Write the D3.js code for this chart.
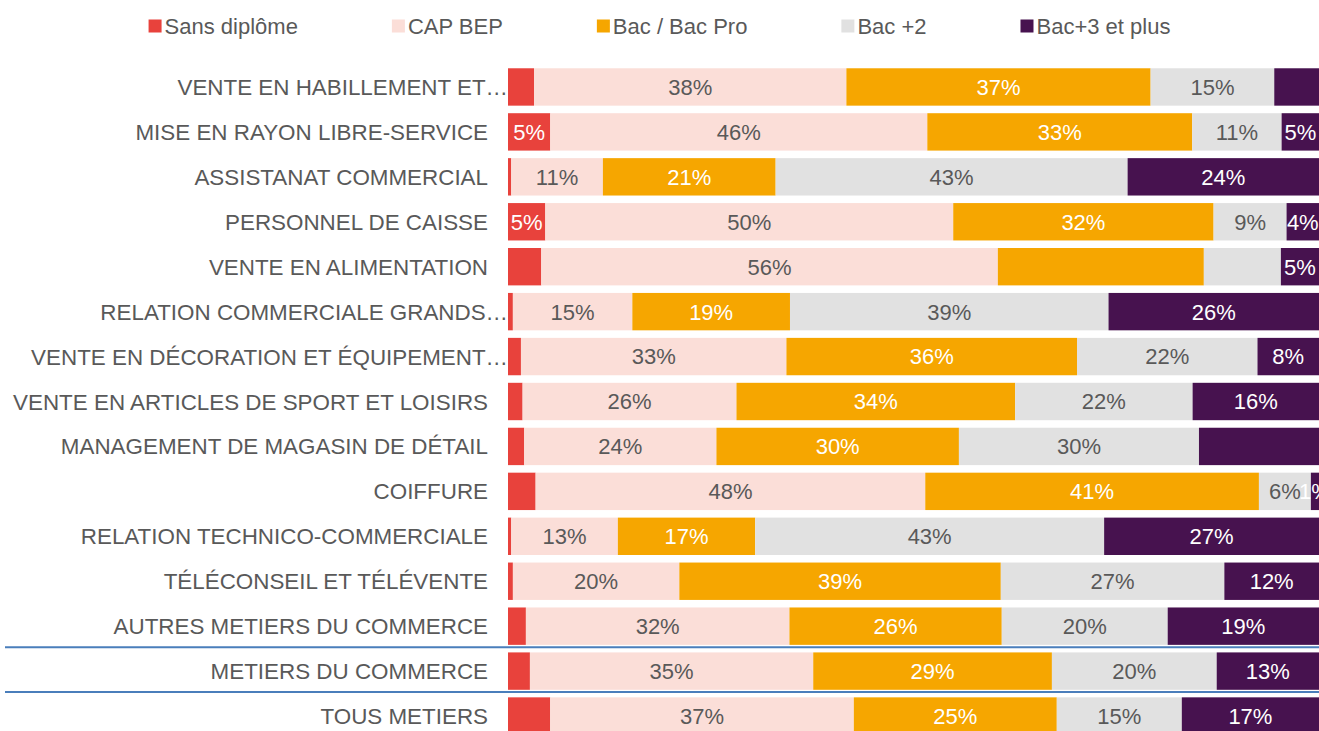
<!DOCTYPE html>
<html>
<head>
<meta charset="utf-8">
<script src="https://cdn.jsdelivr.net/npm/d3@7"></script>
<style>
  body { margin: 0; background: #fff; }
  text { font-family: "Liberation Sans", Arial, sans-serif; }
</style>
</head>
<body>
<div id="chart"></div>
<script>
// Data (percentages)
var categories = [
  "VENTE EN HABILLEMENT ET…",
  "MISE EN RAYON LIBRE-SERVICE",
  "ASSISTANAT COMMERCIAL",
  "PERSONNEL DE CAISSE",
  "VENTE EN ALIMENTATION",
  "RELATION COMMERCIALE GRANDS…",
  "VENTE EN DÉCORATION ET ÉQUIPEMENT…",
  "VENTE EN ARTICLES DE SPORT ET LOISIRS",
  "MANAGEMENT DE MAGASIN DE DÉTAIL",
  "COIFFURE",
  "RELATION TECHNICO-COMMERCIALE",
  "TÉLÉCONSEIL ET TÉLÉVENTE",
  "AUTRES METIERS DU COMMERCE",
  "METIERS DU COMMERCE",
  "TOUS METIERS"
];
var seriesNames = ["Sans diplôme", "CAP BEP", "Bac / Bac Pro", "Bac +2", "Bac+3 et plus"];
var sansDiplome = [3.2, 5.2, 0.4, 4.6, 4.1, 0.6, 1.6, 1.8, 2.0, 3.4, 0.4, 0.6, 2.2, 2.7, 5.2];
var capBep      = [38.4, 46.4, 11.3, 50.3, 56.3, 14.7, 32.8, 26.4, 23.7, 48.0, 13.2, 20.4, 32.4, 34.9, 37.4];
var bacPro      = [37.4, 32.6, 21.3, 32.1, 25.4, 19.4, 35.9, 34.4, 29.9, 41.1, 17.0, 39.4, 26.1, 29.4, 25.0];
var bac2        = [15.2, 11.0, 43.4, 9.0, 9.5, 39.2, 22.3, 21.9, 29.6, 6.4, 43.2, 27.4, 20.4, 20.3, 15.4];
var bac3        = [5.5, 4.6, 23.6, 4.0, 4.7, 25.9, 7.6, 15.6, 14.8, 1.0, 26.6, 11.6, 18.6, 12.6, 16.9];
// labels that are not shown on the chart: [category index, series index]
var hiddenLabels = [[0,0],[0,4],[2,0],[4,0],[4,2],[4,3],[5,0],[6,0],[7,0],[8,0],[8,4],[9,0],[10,0],[11,0],[12,0],[13,0],[14,0]];
// rows preceded by a separator line
var separatorsBefore = ["METIERS DU COMMERCE", "TOUS METIERS"];

var colors = ["#E8423C", "#FBDED8", "#F6A600", "#E1E1E1", "#47124F"];
var labelColors = ["#ffffff", "#595959", "#ffffff", "#595959", "#ffffff"];

var W = 1319, H = 731;
var plotLeft = 508, plotRight = 1319;

var columns = [sansDiplome, capBep, bacPro, bac2, bac3];
var table = categories.map(function(c, i) {
  var row = {cat: c, idx: i};
  seriesNames.forEach(function(s, j) { row[s] = columns[j][i]; });
  return row;
});

var stack = d3.stack().keys(seriesNames).offset(d3.stackOffsetExpand);
var stacked = stack(table);

var svg = d3.select("#chart").append("svg")
  .attr("width", W).attr("height", H);

var x = d3.scaleLinear().domain([0, 1]).range([plotLeft, plotRight]);
var y = d3.scaleBand().domain(categories).range([64.5, 738.5])
  .paddingInner(0.168).paddingOuter(0.084);

// Bars
var layers = svg.selectAll(".layer").data(stacked).enter().append("g")
  .attr("class", "layer")
  .attr("fill", function(d, i) { return colors[i]; });

layers.selectAll("rect").data(function(d) { return d; }).enter().append("rect")
  .attr("x", function(d) { return x(d[0]); })
  .attr("y", function(d) { return y(d.data.cat); })
  .attr("width", function(d) { return x(d[1]) - x(d[0]); })
  .attr("height", y.bandwidth());

// Value labels
function isHidden(r, s) {
  return hiddenLabels.some(function(h) { return h[0] === r && h[1] === s; });
}
stacked.forEach(function(layer, s) {
  svg.append("g").selectAll("text")
    .data(layer.filter(function(d) { return !isHidden(d.data.idx, s); }))
    .enter().append("text")
    .attr("x", function(d) { return (x(d[0]) + x(d[1])) / 2; })
    .attr("y", function(d) { return y(d.data.cat) + y.bandwidth() / 2; })
    .attr("dy", "0.36em")
    .attr("text-anchor", "middle")
    .style("font-size", "22px")
    .attr("fill", labelColors[s])
    .text(function(d) { return Math.round(d.data[seriesNames[s]]) + "%"; });
});

// Category labels (truncated ones sit flush against the bars, like Excel)
svg.append("g").selectAll("text").data(categories).enter().append("text")
  .attr("x", function(d) { return d.slice(-1) === "…" ? plotLeft : plotLeft - 20; })
  .attr("y", function(d) { return y(d) + y.bandwidth() / 2; })
  .attr("dy", "0.36em")
  .attr("text-anchor", "end")
  .style("font-size", "22.4px")
  .attr("fill", "#595959")
  .text(function(d) { return d; });

// Separator lines
var gap = y.step() - y.bandwidth();
svg.append("g").selectAll("line").data(separatorsBefore).enter().append("line")
  .attr("x1", 5).attr("x2", W)
  .attr("y1", function(d) { return y(d) - gap / 2 - 1.5; })
  .attr("y2", function(d) { return y(d) - gap / 2 - 1.5; })
  .style("stroke", "#4A7EBB")
  .style("stroke-width", 2);

// Legend, centred, equal gaps between items
var legend = svg.append("g");
var items = legend.selectAll("g").data(seriesNames).enter().append("g");
items.append("rect")
  .attr("width", 13).attr("height", 13)
  .attr("y", 19.5)
  .attr("fill", function(d, i) { return colors[i]; });
items.append("text")
  .attr("x", 16).attr("y", 26).attr("dy", "0.36em")
  .style("font-size", "22px")
  .attr("fill", "#595959")
  .text(function(d) { return d; });
var itemGap = 94, pos = 0, offsets = [];
items.each(function() {
  offsets.push(pos);
  pos += 16 + this.querySelector("text").getComputedTextLength() + itemGap;
});
var total = pos - itemGap;
var startX = (W - total) / 2;
items.attr("transform", function(d, i) { return "translate(" + (startX + offsets[i]) + ",0)"; });
</script>
</body>
</html>
